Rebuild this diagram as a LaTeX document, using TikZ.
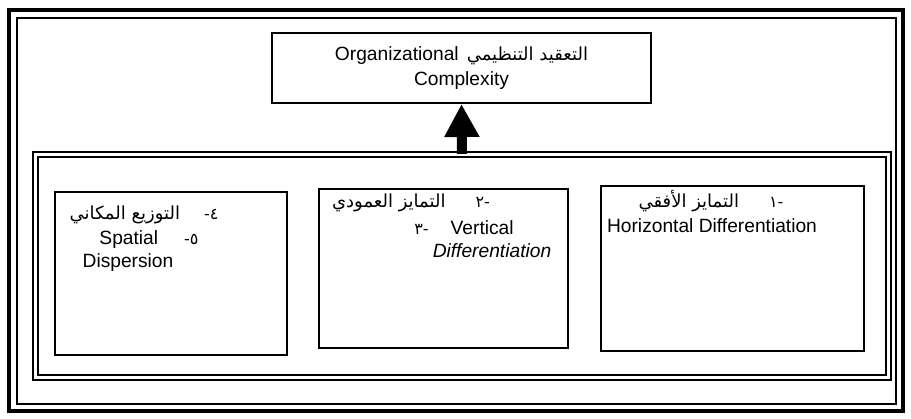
\documentclass[tikz,border=0pt]{standalone}
\usepackage{fontspec}
\setmainfont{Liberation Sans}
\newfontfamily\arabicfont[Script=Arabic]{DejaVu Sans}
\TeXXeTstate=1
\usetikzlibrary{arrows.meta, positioning}
\newcommand{\artext}[1]{{\arabicfont\fontsize{9}{11}\selectfont\beginR #1\endR}}
\newcommand{\arnum}[1]{{\arabicfont\fontsize{8}{10}\selectfont #1}}
\begin{document}
\begin{tikzpicture}[x=0.5pt,y=-0.5pt,
        %Styles
        Box/.style={draw, line width=0.75pt, inner sep=0pt},
        Txt/.style={inner sep=0pt, font=\fontsize{9.6}{12.5}\selectfont},
        Group/.style={draw, double, line width=0.6pt, double distance=1.9pt,
            minimum width=426.5pt, minimum height=111.5pt},
    ]
\useasboundingbox (0,0) rectangle (911,418);

%frame
\draw[line width=2pt] (9,10) rectangle (903,411);
\draw[line width=0.6pt] (17,18) rectangle (896,404);

%main concept
\node[Box, line width=1pt, minimum width=189.5pt, minimum height=35pt, align=center,
      font=\fontsize{9.6}{12.5}\selectfont] (top) at (461.5,68)
    {Organizational\hspace{4pt}\artext{التعقيد التنظيمي}\\Complexity};

%dimensions
\node[Group] (group) at (462,266) {};
\node[Box, minimum width=116pt, minimum height=81.5pt] (lbox) at (171,273.5) {};
\node[Box, minimum width=124.5pt, minimum height=79.5pt] (mbox) at (443.5,268.5) {};
\node[Box, minimum width=131.5pt, minimum height=82.5pt] (rbox) at (732.5,268.5) {};

\draw[line width=5pt, -{Triangle[width=16.5pt,length=16.5pt]}] (group.north) -- (top.south);

% right box
\node[Txt] (r1) at (711,201) {\artext{التمايز الأفقي}\hspace{15pt}\arnum{-١}};
\node[Txt] (r2) at (712,226) {Horizontal Differentiation};

% middle box
\node[Txt] (m1) at (411,203) {\artext{التمايز العمودي}\hspace{15pt}\arnum{-٢}};
\node[Txt] (m2) at (464,228) {\arnum{-٣}\hspace{11pt}Vertical};
\node[Txt] (m3) at (492,251) {\itshape Differentiation};

% left box
\node[Txt] (l1) at (144,215) {\artext{التوزيع المكاني}\hspace{12pt}\arnum{٤-}};
\node[Txt] (l2) at (149,240) {Spatial\hspace{13pt}\arnum{٥-}};
\node[Txt] (l3) at (128,263) {Dispersion};

\end{tikzpicture}
\end{document}
